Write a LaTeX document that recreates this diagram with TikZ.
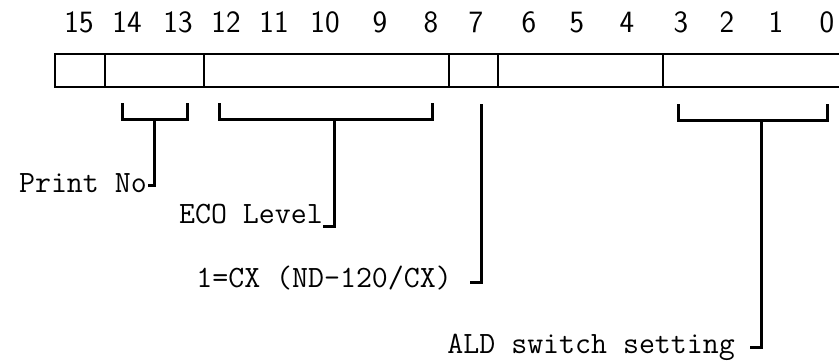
\documentclass[tikz,border=0pt]{standalone}
\usepackage{fontspec}
\usetikzlibrary{calc}
\begin{document}
\begin{tikzpicture}[x=1pt,y=-1pt,
  bitnum/.style={anchor=base,inner sep=0pt,font=\sffamily\fontsize{31}{33}\selectfont},
  lab/.style={anchor=base east,inner sep=0pt,font=\ttfamily\fontsize{31}{33}\selectfont},
  reg/.style={line width=2.4pt},
  brk/.style={line width=3pt}]
\useasboundingbox (0,0) rectangle (839,362);
% bit numbers
\foreach \n/\x in {15/79,14/127,13/178,12/226,11/274,10/325,9/380,8/431,7/476,6/529,5/577,4/627,3/681,2/727,1/776,0/827}
  \node[bitnum] (b\n) at (\x,32) {\n};
% register
\coordinate (rTL) at (55,54);
\coordinate (rBL) at (55,87);
\draw[reg] (839,54) -- (rTL) -- (rBL) -- (839,87);
\foreach \x in {105,204,449,498,663}
  \draw[reg] (\x,54) -- (\x,87);
% Print No
\coordinate (pnL) at (122,103);
\coordinate (pnR) at (187,103);
\coordinate (pnM) at (154,119);
\coordinate (pnF) at (148,185);
\draw[brk] (pnL) -- (pnL |- pnM) -- (pnR |- pnM) -- (pnR);
\node[lab] (pnT) at (147,192) {Print No};
\draw[brk] (pnM) |- (pnF);
% ECO Level
\coordinate (ecL) at (219,103);
\coordinate (ecR) at (432,103);
\coordinate (ecM) at (334,119);
\coordinate (ecF) at (323,226);
\draw[brk] (ecL) -- (ecL |- ecM) -- (ecR |- ecM) -- (ecR);
\node[lab] (ecT) at (323,223) {ECO Level};
\draw[brk] (ecM) |- (ecF);
% bit 7
\coordinate (cxM) at (481,104);
\coordinate (cxF) at (470,282);
\node[lab] (cxT) at (452,287) {1=CX (ND-120/CX)};
\draw[brk] (cxM) |- (cxF);
% ALD
\coordinate (alL) at (678,104);
\coordinate (alR) at (827,104);
\coordinate (alM) at (761,120);
\coordinate (alF) at (750,347);
\draw[brk] (alL) -- (alL |- alM) -- (alR |- alM) -- (alR);
\node[lab] (alT) at (735,353) {ALD switch setting};
\draw[brk] (alM) |- (alF);
\end{tikzpicture}
\end{document}
